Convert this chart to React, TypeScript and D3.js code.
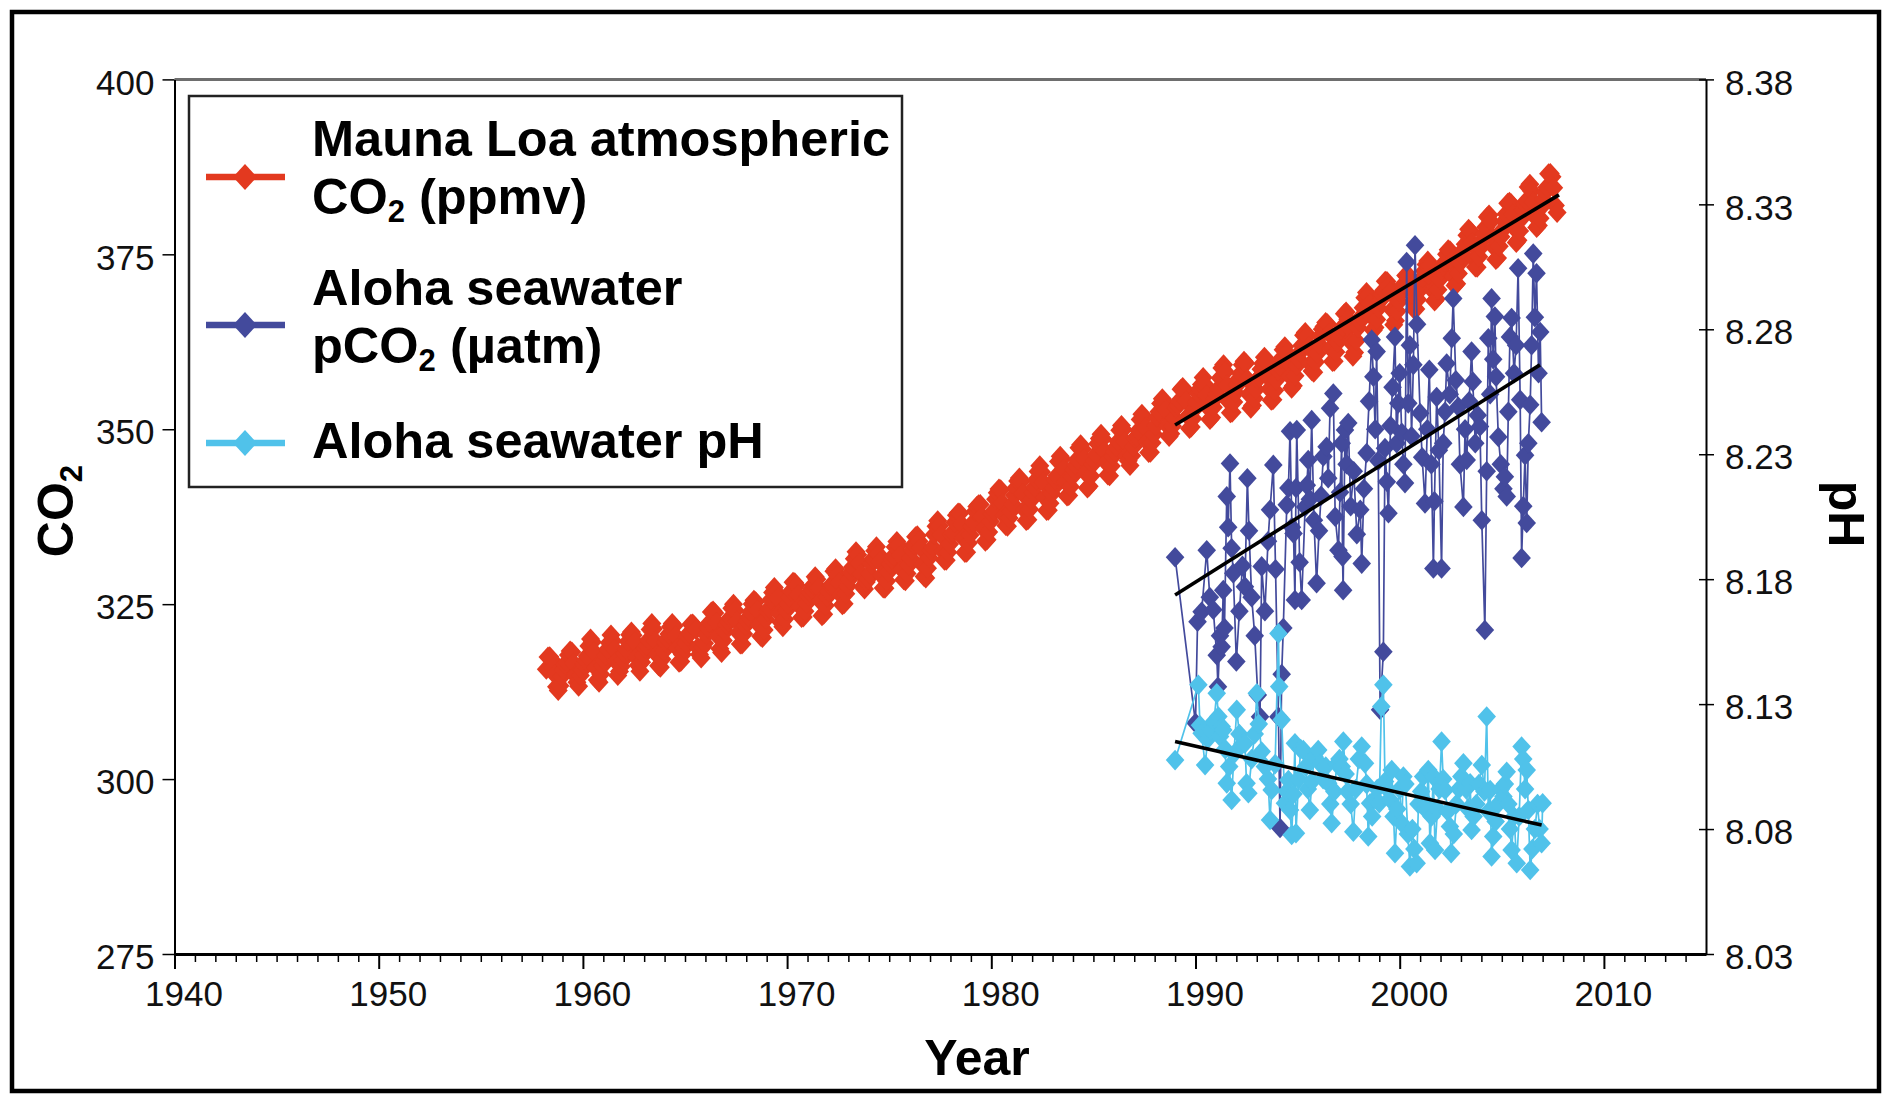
import React, { useEffect, useRef } from 'react';
import * as d3 from 'd3';

// Mauna Loa monthly CO2 (ppmv). 1950s block starts March 1958, others start in January.
const mlo1950s = [
  315.71, 317.45, 317.5, 317.1, 315.86, 314.93, 313.2, 312.66, 313.33, 314.67,
  315.62, 316.38, 316.71, 317.72, 318.29, 318.15, 316.54, 314.8, 313.84, 313.26, 314.8, 315.58,
];
const mlo1960s = [
  316.43, 316.97, 317.58, 319.02, 320.03, 319.59, 318.18, 315.91, 314.16, 313.83, 315.0, 316.19,
  316.93, 317.7, 318.54, 319.48, 320.58, 319.77, 318.57, 316.79, 314.8, 315.38, 316.1, 317.01,
  317.94, 318.56, 319.68, 320.63, 321.01, 320.55, 319.58, 317.4, 316.26, 315.42, 316.69, 317.69,
  318.74, 319.08, 319.86, 321.39, 322.25, 321.47, 319.74, 317.77, 316.21, 315.99, 317.12, 318.31,
  319.57, 320.07, 320.73, 321.77, 322.25, 321.89, 320.44, 318.7, 316.7, 316.79, 317.79, 318.71,
  319.44, 320.44, 320.89, 322.13, 322.16, 321.87, 321.39, 318.81, 317.81, 317.3, 318.87, 319.42,
  320.62, 321.59, 322.39, 323.87, 324.01, 323.75, 322.39, 320.37, 318.64, 318.1, 319.79, 321.08,
  322.07, 322.5, 323.04, 324.42, 325.0, 324.09, 322.55, 320.92, 319.31, 319.31, 320.72, 321.96,
  322.57, 323.15, 323.89, 325.02, 325.57, 325.36, 324.14, 322.03, 320.41, 320.25, 321.31, 322.84,
  324.0, 324.42, 325.64, 326.66, 327.38, 326.7, 325.89, 323.67, 322.38, 321.78, 322.85, 324.11,
];
const mlo1970s = [
  325.03, 325.99, 326.87, 328.13, 328.07, 327.66, 326.35, 324.69, 323.1, 323.16, 323.98, 325.13,
  326.17, 326.68, 327.18, 327.78, 328.92, 328.57, 327.34, 325.46, 323.36, 323.57, 324.8, 326.01,
  326.77, 327.63, 327.75, 329.72, 330.07, 329.09, 328.05, 326.32, 324.93, 325.06, 326.5, 327.55,
  328.54, 329.56, 330.3, 331.5, 332.48, 332.07, 330.87, 329.31, 327.51, 327.18, 328.16, 328.64,
  329.35, 330.71, 331.48, 332.65, 333.2, 332.16, 331.07, 329.12, 327.32, 327.28, 328.3, 329.58,
  330.73, 331.46, 331.9, 333.17, 333.94, 333.45, 331.98, 329.95, 328.5, 328.34, 329.37, 330.58,
  331.59, 332.75, 333.52, 334.64, 334.77, 334.0, 333.06, 330.68, 328.95, 328.75, 330.15, 331.62,
  332.66, 333.13, 334.95, 336.13, 336.93, 336.17, 334.88, 332.56, 331.29, 331.27, 332.41, 333.6,
  334.95, 335.25, 336.66, 337.69, 338.03, 338.01, 336.41, 334.41, 332.37, 332.41, 333.75, 334.9,
  336.14, 336.69, 338.27, 338.95, 339.21, 339.26, 337.54, 335.75, 333.98, 334.19, 335.31, 336.81,
];
const mlo1980s = [
  337.9, 338.34, 340.01, 340.93, 341.45, 341.36, 339.45, 337.67, 336.25, 336.14, 337.3, 338.29,
  339.29, 340.55, 341.63, 342.6, 343.04, 342.54, 340.82, 338.48, 336.95, 337.05, 338.58, 339.91,
  340.93, 341.76, 342.78, 343.96, 344.77, 343.88, 342.42, 340.24, 338.38, 338.41, 339.44, 340.78,
  341.57, 342.79, 343.37, 345.4, 346.14, 345.76, 344.32, 342.51, 340.46, 340.53, 341.79, 343.2,
  344.21, 344.92, 345.68, 347.37, 347.78, 347.16, 345.79, 343.74, 341.59, 341.86, 343.31, 345.0,
  345.48, 346.41, 347.91, 348.66, 349.28, 348.65, 346.9, 345.26, 343.47, 343.35, 344.73, 346.12,
  346.78, 347.48, 348.25, 349.86, 350.52, 349.98, 348.25, 346.17, 345.48, 344.82, 346.22, 347.49,
  348.73, 348.92, 349.81, 351.4, 352.15, 351.58, 350.21, 348.2, 346.66, 346.72, 348.08, 349.28,
  350.51, 351.7, 352.5, 353.67, 354.35, 353.88, 352.8, 350.49, 348.97, 349.37, 350.42, 351.62,
  353.07, 353.43, 354.08, 355.72, 355.95, 355.44, 354.05, 351.84, 350.09, 350.33, 351.55, 352.91,
];
const mlo1990s = [
  353.86, 355.1, 355.75, 356.38, 357.38, 356.39, 354.89, 353.06, 351.38, 351.69, 353.14, 354.41,
  354.93, 355.82, 357.33, 358.77, 359.23, 358.23, 356.3, 353.97, 352.34, 352.43, 353.89, 355.21,
  356.34, 357.21, 357.97, 359.22, 359.71, 359.43, 357.15, 354.99, 353.01, 353.41, 354.42, 355.68,
  357.1, 357.42, 358.59, 359.39, 360.3, 359.64, 357.45, 355.76, 354.14, 354.23, 355.53, 357.03,
  358.36, 359.04, 360.11, 361.36, 361.78, 360.94, 359.51, 357.59, 355.86, 356.21, 357.65, 359.1,
  360.04, 361.0, 361.98, 363.44, 363.83, 363.33, 361.78, 359.33, 358.32, 358.14, 359.61, 360.82,
  362.2, 363.36, 364.28, 364.69, 365.25, 365.06, 363.69, 361.55, 359.69, 359.72, 361.04, 362.39,
  363.24, 364.21, 364.65, 366.49, 366.77, 365.73, 364.46, 362.4, 360.44, 360.98, 362.65, 364.51,
  365.39, 366.1, 367.36, 368.79, 369.56, 369.13, 367.98, 366.1, 364.16, 364.54, 365.67, 367.3,
  368.35, 369.28, 369.84, 371.15, 371.12, 370.46, 369.61, 367.06, 364.95, 365.52, 366.88, 368.26,
];
const mlo2000s = [
  369.45, 369.71, 370.75, 371.98, 371.75, 371.87, 370.02, 368.27, 367.15, 367.18, 368.53, 369.83,
  370.76, 371.69, 372.63, 373.55, 374.03, 373.4, 371.68, 369.78, 368.34, 368.61, 369.94, 371.42,
  372.7, 373.37, 373.85, 375.02, 375.65, 375.5, 374.0, 371.82, 370.55, 370.8, 372.25, 373.79,
  374.88, 375.64, 376.45, 377.73, 378.6, 378.28, 376.7, 374.38, 373.17, 373.15, 374.66, 375.99,
  377.0, 377.87, 378.88, 380.35, 380.62, 379.69, 377.47, 376.01, 374.25, 374.46, 376.16, 377.51,
  378.46, 379.73, 380.77, 382.29, 382.45, 382.21, 380.74, 378.74, 376.7, 377.0, 378.35, 380.11,
  381.38, 382.19, 382.67, 384.61, 385.03, 384.05, 382.46, 380.41, 378.85, 379.13, 380.15, 381.82,
  382.89, 383.9, 384.58, 386.5, 386.56, 386.1, 384.5, 381.99, 380.96,
];

// Station ALOHA surface seawater pCO2 (µatm): [decimal year, value]
const alohaPco2: [number, number][] = [
  [1989.0, 331.7], [1990.0, 308.0], [1990.1, 322.5], [1990.3, 323.9], [1990.55, 332.7], [1990.7, 326.0],
  [1990.87, 324.2], [1991.04, 317.7], [1991.1, 313.2], [1991.2, 320.5], [1991.28, 318.9], [1991.36, 327.0],
  [1991.42, 321.6], [1991.53, 340.4], [1991.6, 336.0], [1991.69, 345.1], [1991.77, 333.0], [1991.85, 329.4],
  [1992.0, 316.8], [1992.15, 324.0], [1992.3, 330.5], [1992.42, 327.5], [1992.54, 343.0], [1992.62, 335.5],
  [1992.75, 326.0], [1992.9, 320.5], [1993.05, 312.0], [1993.16, 308.9], [1993.24, 330.4], [1993.4, 324.0],
  [1993.55, 334.0], [1993.65, 338.5], [1993.81, 344.9], [1993.92, 330.0], [1994.06, 308.9], [1994.14, 293.0],
  [1994.22, 315.0], [1994.3, 321.6], [1994.47, 339.2], [1994.55, 341.6], [1994.63, 349.7], [1994.72, 336.0],
  [1994.8, 335.1], [1994.87, 325.6], [1994.92, 341.6], [1994.96, 349.9], [1995.1, 331.0], [1995.2, 325.6],
  [1995.37, 338.9], [1995.45, 342.0], [1995.52, 345.6], [1995.6, 340.0], [1995.69, 351.3], [1995.8, 337.0],
  [1995.93, 328.0], [1996.05, 335.5], [1996.15, 340.5], [1996.26, 346.1], [1996.42, 347.5], [1996.5, 343.0],
  [1996.59, 353.0], [1996.75, 355.1], [1996.84, 337.5], [1997.0, 332.7], [1997.08, 341.0], [1997.16, 348.0],
  [1997.2, 331.8], [1997.23, 327.0], [1997.32, 349.9], [1997.4, 345.0], [1997.48, 350.9], [1997.6, 339.0],
  [1997.75, 344.0], [1997.9, 335.0], [1998.07, 338.5], [1998.14, 330.8], [1998.25, 341.5], [1998.38, 346.6],
  [1998.5, 354.0], [1998.63, 362.8], [1998.71, 357.5], [1998.8, 350.0], [1998.87, 361.1], [1998.95, 345.5],
  [1999.04, 309.9], [1999.2, 318.2], [1999.28, 347.3], [1999.37, 342.5], [1999.45, 338.0], [1999.55, 350.5],
  [1999.65, 356.0], [1999.77, 363.2], [1999.85, 348.0], [1999.93, 353.7], [2000.0, 358.0], [2000.1, 349.5],
  [2000.18, 345.0], [2000.26, 342.3], [2000.34, 373.9], [2000.42, 353.7], [2000.5, 362.0], [2000.58, 349.0],
  [2000.67, 359.2], [2000.75, 376.3], [2000.85, 365.0], [2001.0, 352.3], [2001.1, 346.0], [2001.24, 339.4],
  [2001.35, 350.0], [2001.45, 358.5], [2001.55, 345.0], [2001.65, 330.1], [2001.7, 339.7], [2001.81, 354.6],
  [2001.92, 347.0], [2002.05, 330.1], [2002.13, 348.0], [2002.22, 352.5], [2002.3, 359.4], [2002.45, 355.0],
  [2002.55, 363.0], [2002.62, 368.7], [2002.75, 357.0], [2002.87, 353.2], [2002.95, 345.0], [2003.12, 338.9],
  [2003.2, 350.0], [2003.28, 345.6], [2003.4, 354.0], [2003.52, 361.1], [2003.58, 356.8], [2003.7, 348.0],
  [2003.82, 352.0], [2003.93, 350.4], [2004.02, 337.0], [2004.17, 321.3], [2004.26, 344.0], [2004.34, 363.0],
  [2004.43, 355.0], [2004.5, 368.7], [2004.58, 360.0], [2004.66, 366.1], [2004.72, 357.5], [2004.83, 348.9],
  [2004.95, 345.0], [2005.08, 341.5], [2005.15, 343.2], [2005.24, 340.4], [2005.32, 352.5], [2005.4, 363.2],
  [2005.48, 365.9], [2005.6, 358.0], [2005.7, 362.0], [2005.8, 373.0], [2005.9, 354.2], [2005.97, 331.6],
  [2006.05, 339.0], [2006.14, 346.3], [2006.22, 336.6], [2006.3, 348.0], [2006.39, 353.5], [2006.46, 362.0],
  [2006.54, 375.1], [2006.62, 366.0], [2006.7, 372.3], [2006.8, 358.0], [2006.88, 363.9], [2006.95, 351.0],
];

// Station ALOHA surface seawater pH: [decimal year, value]
const alohaPh: [number, number][] = [
  [1989.0, 8.1076], [1990.14, 8.1377], [1990.22, 8.1215], [1990.3, 8.1183], [1990.47, 8.1056], [1990.6, 8.116],
  [1990.75, 8.1195], [1990.9, 8.123], [1991.04, 8.1343], [1991.12, 8.125], [1991.2, 8.117], [1991.28, 8.121],
  [1991.36, 8.1196], [1991.45, 8.112], [1991.53, 8.0983], [1991.65, 8.105], [1991.77, 8.0916], [1991.88, 8.11],
  [1992.02, 8.1277], [1992.15, 8.118], [1992.3, 8.114], [1992.42, 8.1143], [1992.5, 8.0983], [1992.59, 8.0943],
  [1992.75, 8.108], [1992.9, 8.118], [1993.0, 8.1343], [1993.1, 8.122], [1993.24, 8.111], [1993.4, 8.105],
  [1993.55, 8.1], [1993.65, 8.0836], [1993.73, 8.0956], [1993.9, 8.106], [1994.06, 8.1583], [1994.1, 8.137],
  [1994.22, 8.1237], [1994.38, 8.0903], [1994.47, 8.095], [1994.55, 8.0996], [1994.63, 8.0876], [1994.71, 8.0776],
  [1994.8, 8.094], [1994.87, 8.1143], [1994.92, 8.0783], [1995.05, 8.1], [1995.15, 8.112], [1995.28, 8.1116],
  [1995.4, 8.105], [1995.5, 8.096], [1995.6, 8.0876], [1995.7, 8.099], [1995.82, 8.109], [1996.01, 8.1116],
  [1996.12, 8.106], [1996.25, 8.1], [1996.38, 8.105], [1996.5, 8.0983], [1996.6, 8.09], [1996.67, 8.0823],
  [1996.8, 8.095], [1996.92, 8.106], [1997.05, 8.108], [1997.16, 8.105], [1997.24, 8.115], [1997.35, 8.102],
  [1997.45, 8.095], [1997.6, 8.09], [1997.73, 8.0789], [1997.85, 8.096], [1998.0, 8.108], [1998.14, 8.113],
  [1998.3, 8.1063], [1998.38, 8.098], [1998.46, 8.077], [1998.55, 8.0903], [1998.65, 8.085], [1998.8, 8.092],
  [1998.9, 8.096], [1999.0, 8.0903], [1999.1, 8.129], [1999.2, 8.1377], [1999.28, 8.099], [1999.4, 8.096],
  [1999.5, 8.092], [1999.61, 8.1036], [1999.7, 8.085], [1999.77, 8.0703], [1999.88, 8.088], [2000.0, 8.096],
  [2000.1, 8.0823], [2000.18, 8.101], [2000.28, 8.098], [2000.4, 8.078], [2000.5, 8.065], [2000.62, 8.08],
  [2000.72, 8.072], [2000.83, 8.0663], [2000.92, 8.09], [2001.05, 8.095], [2001.15, 8.101], [2001.25, 8.088],
  [2001.32, 8.0903], [2001.4, 8.1036], [2001.48, 8.0743], [2001.56, 8.085], [2001.65, 8.101], [2001.73, 8.0716],
  [2001.85, 8.088], [2001.95, 8.096], [2002.05, 8.115], [2002.13, 8.1], [2002.22, 8.0956], [2002.35, 8.087],
  [2002.46, 8.081], [2002.52, 8.0703], [2002.65, 8.078], [2002.78, 8.09], [2002.9, 8.096], [2003.02, 8.101],
  [2003.12, 8.1063], [2003.25, 8.096], [2003.35, 8.088], [2003.45, 8.0983], [2003.52, 8.0796], [2003.62, 8.085],
  [2003.75, 8.09], [2003.88, 8.098], [2004.02, 8.1056], [2004.15, 8.095], [2004.26, 8.125], [2004.34, 8.087],
  [2004.43, 8.0956], [2004.5, 8.069], [2004.58, 8.077], [2004.7, 8.083], [2004.82, 8.09], [2004.95, 8.096],
  [2005.08, 8.093], [2005.15, 8.098], [2005.24, 8.1029], [2005.32, 8.09], [2005.4, 8.08], [2005.48, 8.0716],
  [2005.6, 8.085], [2005.73, 8.0663], [2005.85, 8.085], [2005.97, 8.113], [2006.05, 8.108], [2006.14, 8.096],
  [2006.22, 8.1036], [2006.3, 8.0876], [2006.39, 8.0636], [2006.5, 8.072], [2006.62, 8.08], [2006.75, 8.09],
  [2006.85, 8.08], [2006.95, 8.0743], [2007.0, 8.0903],
];

// linear fits drawn over each record: [year, value] end points
const co2Trend: [number, number][] = [[1989.0, 350.6], [2007.8, 383.5]];
const pco2Trend: [number, number][] = [[1989.0, 326.3], [2006.87, 359.2]];
const phTrend: [number, number][] = [[1989.0, 8.115], [2006.95, 8.0816]];

const co2Ticks = [275, 300, 325, 350, 375, 400];
const phTicks = [8.03, 8.08, 8.13, 8.18, 8.23, 8.28, 8.33, 8.38];
const yearTicks = [1940, 1950, 1960, 1970, 1980, 1990, 2000, 2010];

const RED = '#e3391f';
const NAVY = '#434a9c';
const SKY = '#50c2ea';
const FONT = '"Liberation Sans", Arial, Helvetica, sans-serif';

type Part = { t: string; sub?: boolean };

const App = () => {
  const svgRef = useRef<SVGSVGElement | null>(null);

  useEffect(() => {
    const svg = d3.select(svgRef.current);
    svg.selectAll('*').remove();

    const x = d3.scaleLinear().domain([1940, 2015]).range([174.5, 1706]);
    const yCo2 = d3.scaleLinear().domain([275, 400]).range([954, 79.4]);
    const yPh = d3.scaleLinear().domain([8.03, 8.38]).range([954, 79.4]);

    const diamond = (w: number, h: number) => `M0,${-h}L${w},0L0,${h}L${-w},0Z`;

    // monthly points, placed mid-month
    const mloBlocks: [number, number, number[]][] = [
      [1958, 2, mlo1950s], [1960, 0, mlo1960s], [1970, 0, mlo1970s],
      [1980, 0, mlo1980s], [1990, 0, mlo1990s], [2000, 0, mlo2000s],
    ];
    const mlo: [number, number][] = [];
    mloBlocks.forEach(([yr, m0, vals]) => {
      vals.forEach((v, i) => mlo.push([yr + (m0 + i + 0.5) / 12, v]));
    });

    // outer frame
    svg.append('rect')
      .attr('x', 12).attr('y', 12).attr('width', 1867).attr('height', 1079)
      .attr('fill', 'none').attr('stroke', '#000').attr('stroke-width', 4.5);

    // top edge of plot
    svg.append('line')
      .attr('x1', x(1940)).attr('x2', x(2015))
      .attr('y1', yCo2(400)).attr('y2', yCo2(400))
      .attr('stroke', '#6e6e6e').attr('stroke-width', 3);

    // left axis (CO2)
    const gL = svg.append('g')
      .attr('transform', `translate(${x(1940)},0)`)
      .call(d3.axisLeft(yCo2).tickValues(co2Ticks).tickSize(12).tickSizeOuter(0).tickPadding(8));
    gL.select('.domain').attr('stroke-width', 2);
    gL.selectAll('.tick line').attr('stroke-width', 1.5);
    gL.selectAll('text').attr('font-size', 35).attr('font-family', FONT).attr('fill', '#111').attr('dy', '0.42em');

    // right axis (pH)
    const gR = svg.append('g')
      .attr('transform', `translate(${x(2015)},0)`)
      .call(d3.axisRight(yPh).tickValues(phTicks).tickSize(8).tickSizeOuter(0).tickFormat(d3.format('.2f')));
    gR.select('.domain').attr('stroke-width', 2);
    gR.selectAll('.tick line').attr('x1', -7).attr('x2', 8).attr('stroke-width', 1.5);
    gR.selectAll('text').attr('x', 19).attr('font-size', 35).attr('font-family', FONT).attr('fill', '#111').attr('dy', '0.42em');

    // bottom axis, minor yearly ticks then major decade ticks
    const minorYears = d3.range(1941, 2015).filter(v => v % 10 !== 0);
    const gMinor = svg.append('g')
      .attr('transform', `translate(0,${yCo2(275)})`)
      .call(d3.axisBottom(x).tickValues(minorYears).tickSize(8).tickSizeOuter(0).tickFormat(() => ''));
    gMinor.select('.domain').remove();
    gMinor.selectAll('.tick line').attr('stroke-width', 1.5);

    const gB = svg.append('g')
      .attr('transform', `translate(0,${yCo2(275)})`)
      .call(d3.axisBottom(x).tickValues(yearTicks).tickSize(15).tickSizeOuter(0).tickFormat(d3.format('d')));
    gB.select('.domain').attr('stroke-width', 3);
    gB.selectAll('.tick line').attr('stroke-width', 2);
    gB.selectAll('text').attr('y', 27).attr('dx', 9).attr('font-size', 35).attr('font-family', FONT).attr('fill', '#111');

    // axis titles
    const co2Title = svg.append('text')
      .attr('transform', `translate(73,511) rotate(-90)`)
      .attr('text-anchor', 'middle')
      .attr('font-family', FONT).attr('font-weight', 'bold').attr('font-size', 50);
    co2Title.append('tspan').text('CO');
    co2Title.append('tspan').attr('font-size', 31).attr('dy', 9).text('2');

    svg.append('text')
      .attr('transform', `translate(1829,514) rotate(90)`)
      .attr('text-anchor', 'middle')
      .attr('font-family', FONT).attr('font-weight', 'bold').attr('font-size', 50)
      .text('pH');

    svg.append('text')
      .attr('x', 977).attr('y', 1075)
      .attr('text-anchor', 'middle')
      .attr('font-family', FONT).attr('font-weight', 'bold').attr('font-size', 50)
      .text('Year');

    // Mauna Loa series
    const lineCo2 = d3.line<[number, number]>().x(d => x(d[0])).y(d => yCo2(d[1]));
    const linePh = d3.line<[number, number]>().x(d => x(d[0])).y(d => yPh(d[1]));

    svg.append('path').attr('d', lineCo2(mlo)).attr('fill', 'none').attr('stroke', RED).attr('stroke-width', 2);
    svg.append('g').selectAll('path').data(mlo).enter().append('path')
      .attr('d', diamond(9.5, 10.5))
      .attr('transform', d => `translate(${x(d[0])},${yCo2(d[1])})`)
      .attr('fill', RED);

    // ALOHA pCO2
    svg.append('path').attr('d', lineCo2(alohaPco2)).attr('fill', 'none').attr('stroke', NAVY).attr('stroke-width', 1.7);
    svg.append('g').selectAll('path').data(alohaPco2).enter().append('path')
      .attr('d', diamond(9.3, 10.3))
      .attr('transform', d => `translate(${x(d[0])},${yCo2(d[1])})`)
      .attr('fill', NAVY);

    // ALOHA pH
    svg.append('path').attr('d', linePh(alohaPh)).attr('fill', 'none').attr('stroke', SKY).attr('stroke-width', 1.7);
    svg.append('g').selectAll('path').data(alohaPh).enter().append('path')
      .attr('d', diamond(9.3, 10.3))
      .attr('transform', d => `translate(${x(d[0])},${yPh(d[1])})`)
      .attr('fill', SKY);

    // trend lines
    [[co2Trend, lineCo2], [pco2Trend, lineCo2], [phTrend, linePh]].forEach(([pts, gen]: any) => {
      svg.append('path').attr('d', gen(pts)).attr('fill', 'none').attr('stroke', '#000').attr('stroke-width', 3.6);
    });

    // legend
    svg.append('rect')
      .attr('x', 189).attr('y', 96).attr('width', 713).attr('height', 391)
      .attr('fill', '#fff').attr('stroke', '#222').attr('stroke-width', 2.5);

    const legendItems: { color: string; markerY: number; lines: { y: number; parts: Part[] }[] }[] = [
      {
        color: RED, markerY: 177,
        lines: [
          { y: 156, parts: [{ t: 'Mauna Loa atmospheric' }] },
          { y: 214, parts: [{ t: 'CO' }, { t: '2', sub: true }, { t: ' (ppmv)' }] },
        ],
      },
      {
        color: NAVY, markerY: 325,
        lines: [
          { y: 305, parts: [{ t: 'Aloha seawater' }] },
          { y: 363, parts: [{ t: 'pCO' }, { t: '2', sub: true }, { t: ' (µatm)' }] },
        ],
      },
      {
        color: SKY, markerY: 443,
        lines: [{ y: 458, parts: [{ t: 'Aloha seawater pH' }] }],
      },
    ];

    legendItems.forEach(item => {
      svg.append('line')
        .attr('x1', 206).attr('x2', 285).attr('y1', item.markerY).attr('y2', item.markerY)
        .attr('stroke', item.color).attr('stroke-width', 6.5);
      svg.append('path')
        .attr('d', diamond(12, 13))
        .attr('transform', `translate(245,${item.markerY})`)
        .attr('fill', item.color);
      item.lines.forEach(line => {
        const t = svg.append('text')
          .attr('x', 312).attr('y', line.y)
          .attr('font-family', FONT).attr('font-weight', 'bold').attr('font-size', 50.5).attr('fill', '#000');
        line.parts.forEach(p => {
          if (p.sub) {
            t.append('tspan').attr('font-size', 31).attr('dy', 8).text(p.t);
          } else {
            const s = t.append('tspan').text(p.t);
            if (p.t.startsWith(' ')) s.attr('dy', -8);
          }
        });
      });
    });
  }, []);

  return (
    <svg
      ref={svgRef}
      width={1887}
      height={1094}
      style={{ position: 'absolute', left: 0, top: 0, background: '#fff' }}
    />
  );
};

export default App;
